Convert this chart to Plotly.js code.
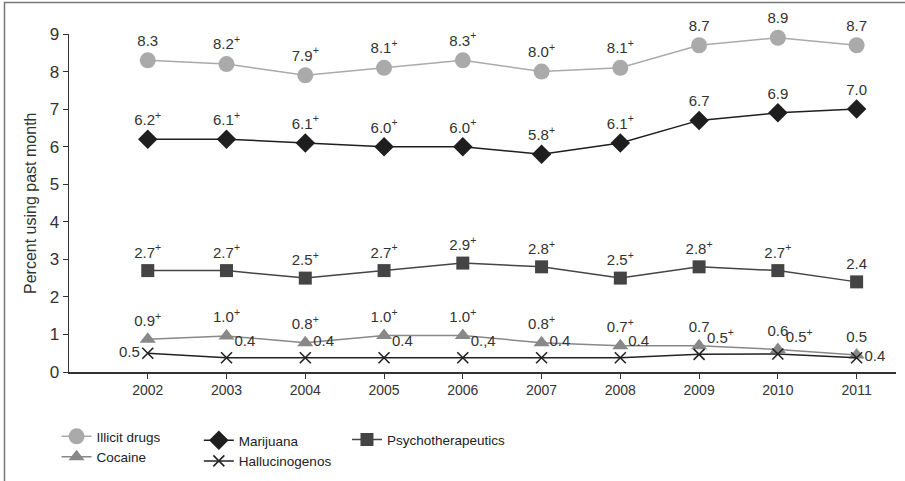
<!DOCTYPE html>
<html>
<head>
<meta charset="utf-8">
<script src="https://cdn.plot.ly/plotly-3.0.1.min.js"></script>
<style>html,body{margin:0;padding:0;background:#fff;}#chart{width:905px;height:481px;}</style>
</head>
<body>
<div id="chart"></div>
<script>
var years = ['2002','2003','2004','2005','2006','2007','2008','2009','2010','2011'];

var illicitValues = [8.3, 8.2, 7.9, 8.1, 8.3, 8.0, 8.1, 8.7, 8.9, 8.7];
var illicitLabels = ['8.3','8.2<sup>+</sup>','7.9<sup>+</sup>','8.1<sup>+</sup>','8.3<sup>+</sup>','8.0<sup>+</sup>','8.1<sup>+</sup>','8.7','8.9','8.7'];

var marijuanaValues = [6.2, 6.2, 6.1, 6.0, 6.0, 5.8, 6.1, 6.7, 6.9, 7.0];
var marijuanaLabels = ['6.2<sup>+</sup>','6.1<sup>+</sup>','6.1<sup>+</sup>','6.0<sup>+</sup>','6.0<sup>+</sup>','5.8<sup>+</sup>','6.1<sup>+</sup>','6.7','6.9','7.0'];

var psychoValues = [2.7, 2.7, 2.5, 2.7, 2.9, 2.8, 2.5, 2.8, 2.7, 2.4];
var psychoLabels = ['2.7<sup>+</sup>','2.7<sup>+</sup>','2.5<sup>+</sup>','2.7<sup>+</sup>','2.9<sup>+</sup>','2.8<sup>+</sup>','2.5<sup>+</sup>','2.8<sup>+</sup>','2.7<sup>+</sup>','2.4'];

var cocaineValues = [0.87, 0.96, 0.78, 0.97, 0.97, 0.78, 0.7, 0.7, 0.6, 0.45];
var cocaineLabels = ['0.9<sup>+</sup>','1.0<sup>+</sup>','0.8<sup>+</sup>','1.0<sup>+</sup>','1.0<sup>+</sup>','0.8<sup>+</sup>','0.7<sup>+</sup>','0.7','0.6','0.5'];

var halluValues = [0.5, 0.38, 0.38, 0.38, 0.38, 0.38, 0.38, 0.47, 0.48, 0.38];
var halluLabels = ['0.5','0.4','0.4','0.4','0.,4','0.4','0.4','0.5<sup>+</sup>','0.5<sup>+</sup>','0.4'];
var halluPositions = ['middle left','top right','top right','top right','top right','top right','top right','top right','top right','middle right'];

var seriesNames = ['Illicit drugs','Marijuana','Psychotherapeutics','Cocaine','Hallucinogenos'];
var yTitle = 'Percent using past month';

var FONT = 'Liberation Sans, Arial, sans-serif';
var labelFont = {family: FONT, size: 15, color: '#333'};

function trace(name, y, labels, pos, marker, lineColor, legend) {
  return {
    type: 'scatter', mode: 'lines+markers+text', name: name,
    x: years, y: y, text: labels, textposition: pos,
    textfont: labelFont, cliponaxis: false,
    line: {color: lineColor, width: 1.5},
    marker: marker, legend: legend, hoverinfo: 'skip'
  };
}

var data = [
  trace(seriesNames[0], illicitValues, illicitLabels, 'top center',
        {symbol: 'circle', size: 16, color: '#aaaaaa'}, '#aaaaaa', 'legend'),
  trace(seriesNames[1], marijuanaValues, marijuanaLabels, 'top center',
        {symbol: 'diamond', size: 15, color: '#1e1e1e'}, '#1e1e1e', 'legend2'),
  trace(seriesNames[2], psychoValues, psychoLabels, 'top center',
        {symbol: 'square', size: 13, color: '#444444'}, '#444444', 'legend3'),
  trace(seriesNames[3], cocaineValues, cocaineLabels, 'top center',
        {symbol: 'triangle-up', size: 14, color: '#888888'}, '#888888', 'legend'),
  trace(seriesNames[4], halluValues, halluLabels, halluPositions,
        {symbol: 'x-thin-open', size: 11, color: '#222222', line: {color: '#222222', width: 1.6}}, '#222222', 'legend2')
];

var legendBase = {
  orientation: 'v', xanchor: 'left', yanchor: 'top',
  xref: 'container', yref: 'container',
  font: {family: FONT, size: 13.5, color: '#222'},
  bgcolor: 'rgba(0,0,0,0)', tracegroupgap: 0, itemclick: false, itemdoubleclick: false
};

var layout = {
  width: 905, height: 481,
  margin: {l: 69, r: 9, t: 34, b: 109, autoexpand: false},
  paper_bgcolor: '#ffffff', plot_bgcolor: '#ffffff',
  font: {family: FONT, color: '#333'},
  showlegend: true,
  xaxis: {
    type: 'category', range: [-1, 9.5],
    showgrid: false, zeroline: false,
    showline: true, linecolor: '#333', linewidth: 1.5,
    ticks: 'outside', ticklen: 5, tickcolor: '#333', tickwidth: 1,
    tickfont: {family: FONT, size: 14, color: '#333'}
  },
  yaxis: {
    range: [0, 9], dtick: 1, tick0: 0,
    showgrid: false, zeroline: false,
    showline: true, linecolor: '#333', linewidth: 1.5,
    ticks: 'outside', ticklen: 5, tickcolor: '#333', tickwidth: 1,
    tickfont: {family: FONT, size: 17, color: '#333'}
  },
  annotations: [{
    text: yTitle, xref: 'paper', yref: 'paper', x: -0.0472, y: 0.5,
    xanchor: 'center', yanchor: 'middle', textangle: -90, showarrow: false,
    font: {family: FONT, size: 16, color: '#333'}
  }],
  legend: Object.assign({}, legendBase, {x: 0.0625, y: 0.1247}),
  legend2: Object.assign({}, legendBase, {x: 0.2197, y: 0.1163}),
  legend3: Object.assign({}, legendBase, {x: 0.3834, y: 0.118}),
  shapes: [{
    type: 'rect', xref: 'paper', yref: 'paper',
    x0: -0.078, x1: 1.05, y0: -0.4, y1: 1.093,
    line: {color: '#777', width: 1.5}, fillcolor: 'rgba(0,0,0,0)', layer: 'below'
  }]
};

Plotly.newPlot('chart', data, layout, {staticPlot: true, displayModeBar: false});
</script>
</body>
</html>
